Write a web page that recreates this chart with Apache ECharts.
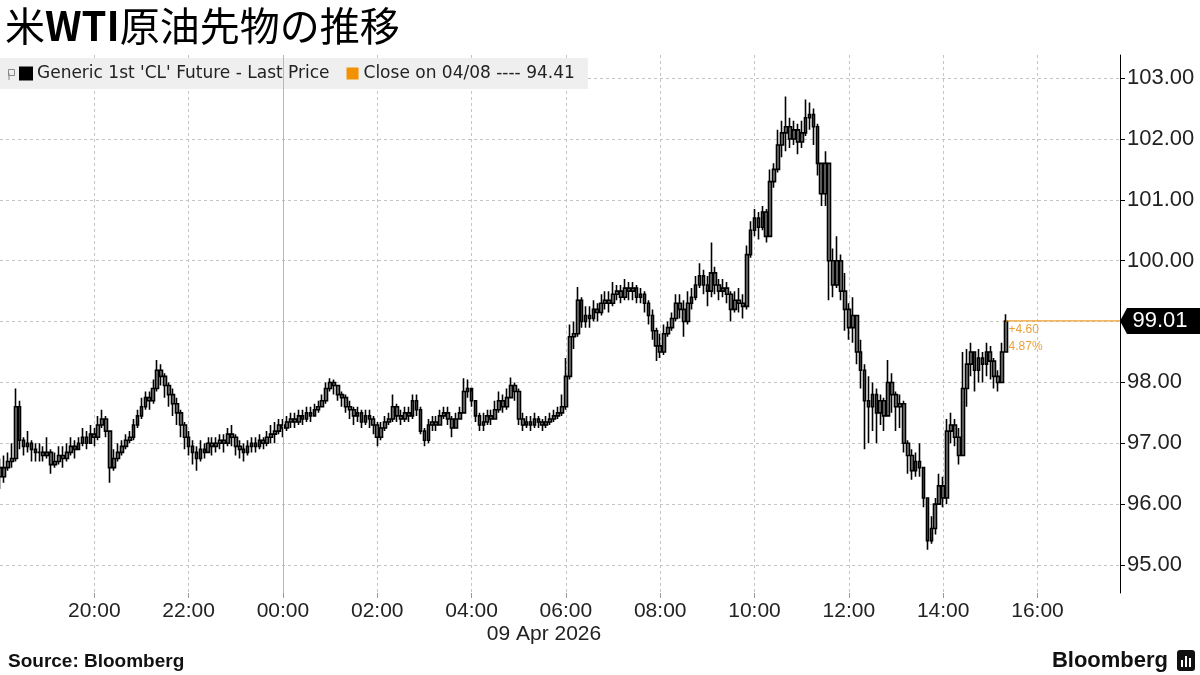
<!DOCTYPE html>
<html><head><meta charset="utf-8">
<script src="https://cdn.jsdelivr.net/npm/echarts@6/dist/echarts.min.js"></script>
<style>html,body{margin:0;padding:0;background:#fff}#c{width:1200px;height:675px}</style>
</head><body><div id="c"></div>
<script>
const chartTitle = '米{b|WTI}原油先物の推移';
const seriesName = "Generic 1st 'CL' Future - Last Price";
const prevCloseName = 'Close on 04/08 ---- 94.41';
const prevClose = 94.41;
const slotCount = 286;          // 5-minute slots from 18:00 (8 Apr) to 17:45 (9 Apr)
const tickLabels = ['20:00','22:00','00:00','02:00','04:00','06:00','08:00','10:00','12:00','14:00','16:00'];
const dayBoundary = '00:00';
const dateLabel = '09 Apr 2026';
const sourceText = 'Source: Bloomberg';

const opens = [
96.6,96.45,96.6,96.7,96.75,97.6,97.05,96.95,97.0,96.9,
96.85,96.85,96.8,96.85,96.65,96.7,96.8,96.75,96.85,96.95,
96.9,97.0,97.1,97.0,97.15,97.1,97.3,97.4,97.2,96.6,
96.75,96.85,96.95,97.05,97.1,97.3,97.45,97.6,97.75,97.7,
97.9,98.2,98.1,97.95,97.8,97.65,97.5,97.3,97.1,96.95,
96.85,96.75,96.9,96.85,97.0,96.95,97.0,97.05,97.0,97.15,
97.1,96.95,96.9,96.85,96.95,97.0,96.95,97.05,97.0,97.1,
97.15,97.2,97.3,97.25,97.35,97.4,97.35,97.45,97.4,97.5,
97.45,97.55,97.6,97.7,97.9,98.0,97.95,97.8,97.75,97.6,
97.55,97.45,97.5,97.35,97.45,97.4,97.3,97.1,97.25,97.35,
97.4,97.6,97.45,97.4,97.5,97.45,97.7,97.55,97.2,97.05,
97.3,97.35,97.3,97.45,97.5,97.4,97.25,97.4,97.5,97.85,
97.9,97.7,97.45,97.3,97.35,97.45,97.4,97.55,97.7,97.6,
97.75,97.95,97.85,97.4,97.3,97.35,97.3,97.4,97.35,97.3,
97.35,97.4,97.45,97.5,97.6,98.1,98.75,98.8,99.35,99.0,
99.1,99.05,99.2,99.15,99.3,99.35,99.3,99.45,99.5,99.4,
99.55,99.5,99.55,99.4,99.45,99.3,99.1,98.85,98.6,98.5,
98.8,98.9,99.05,99.3,99.2,99.0,99.3,99.4,99.6,99.75,
99.6,99.5,99.8,99.6,99.5,99.55,99.45,99.2,99.35,99.3,
99.25,100.1,100.5,100.7,100.55,100.8,100.4,101.3,101.5,101.9,
102.1,102.2,102.0,102.15,101.95,102.1,102.35,102.4,102.2,101.6,
101.1,101.6,100.0,99.6,100.0,99.5,99.2,98.9,99.1,98.5,
98.2,97.7,97.6,97.8,97.5,97.7,97.45,98.0,97.8,97.6,
97.65,97.0,96.8,96.55,96.7,96.6,96.1,95.4,95.6,96.0,
96.3,96.1,97.2,97.3,97.1,96.8,97.9,98.3,98.5,98.2,
98.4,98.3,98.5,98.35,98.1,98.0,98.5
];
const closes = [
96.45,96.6,96.7,96.75,97.6,97.05,96.95,97.0,96.9,96.85,
96.85,96.8,96.85,96.65,96.7,96.8,96.75,96.85,96.95,96.9,
97.0,97.1,97.0,97.15,97.1,97.3,97.4,97.2,96.6,96.75,
96.85,96.95,97.05,97.1,97.3,97.45,97.6,97.75,97.7,97.9,
98.2,98.1,97.95,97.8,97.65,97.5,97.3,97.1,96.95,96.85,
96.75,96.9,96.85,97.0,96.95,97.0,97.05,97.0,97.15,97.1,
96.95,96.9,96.85,96.95,97.0,96.95,97.05,97.0,97.1,97.15,
97.2,97.3,97.25,97.35,97.4,97.35,97.45,97.4,97.5,97.45,
97.55,97.6,97.7,97.9,98.0,97.95,97.8,97.75,97.6,97.55,
97.45,97.5,97.35,97.45,97.4,97.3,97.1,97.25,97.35,97.4,
97.6,97.45,97.4,97.5,97.45,97.7,97.55,97.2,97.05,97.3,
97.35,97.3,97.45,97.5,97.4,97.25,97.4,97.5,97.85,97.9,
97.7,97.45,97.3,97.35,97.45,97.4,97.55,97.7,97.6,97.75,
97.95,97.85,97.4,97.3,97.35,97.3,97.4,97.35,97.3,97.35,
97.4,97.45,97.5,97.6,98.1,98.75,98.8,99.35,99.0,99.1,
99.05,99.2,99.15,99.3,99.35,99.3,99.45,99.5,99.4,99.55,
99.5,99.55,99.4,99.45,99.3,99.1,98.85,98.6,98.5,98.8,
98.9,99.05,99.3,99.2,99.0,99.3,99.4,99.6,99.75,99.6,
99.5,99.8,99.6,99.5,99.55,99.45,99.2,99.35,99.3,99.25,
100.1,100.5,100.7,100.55,100.8,100.4,101.3,101.5,101.9,102.1,
102.2,102.0,102.15,101.95,102.1,102.35,102.4,102.2,101.6,101.1,
101.6,100.0,99.6,100.0,99.5,99.2,98.9,99.1,98.5,98.2,
97.7,97.6,97.8,97.5,97.7,97.45,98.0,97.8,97.6,97.65,
97.0,96.8,96.55,96.7,96.6,96.1,95.4,95.6,96.0,96.3,
96.1,97.2,97.3,97.1,96.8,97.9,98.3,98.5,98.2,98.4,
98.3,98.5,98.35,98.1,98.0,98.5,99.01
];
const highs = [
96.75,96.8,96.85,97.0,97.9,97.7,97.1,97.2,97.05,97.0,
97.0,96.95,97.1,96.9,96.85,96.95,96.95,97.0,97.1,97.05,
97.1,97.25,97.2,97.3,97.25,97.45,97.55,97.45,97.2,96.9,
97.0,97.05,97.15,97.2,97.4,97.55,97.75,97.85,97.85,98.05,
98.37,98.3,98.15,98.0,97.9,97.75,97.55,97.35,97.2,97.05,
96.95,97.05,97.0,97.1,97.1,97.1,97.15,97.15,97.25,97.3,
97.15,97.05,97.0,97.05,97.1,97.1,97.15,97.1,97.2,97.3,
97.35,97.4,97.4,97.45,97.5,97.5,97.55,97.55,97.6,97.6,
97.65,97.7,97.8,98.0,98.07,98.05,97.95,97.85,97.8,97.7,
97.6,97.6,97.55,97.55,97.55,97.45,97.35,97.35,97.45,97.5,
97.8,97.65,97.55,97.6,97.6,97.8,97.8,97.6,97.25,97.4,
97.45,97.45,97.55,97.6,97.6,97.45,97.5,97.6,98.07,98.05,
97.85,97.7,97.5,97.5,97.55,97.55,97.7,97.85,97.8,97.9,
98.08,98.0,97.9,97.5,97.45,97.45,97.5,97.45,97.4,97.45,
97.5,97.55,97.6,97.8,98.4,98.95,99.0,99.57,99.4,99.25,
99.25,99.35,99.3,99.45,99.5,99.5,99.65,99.6,99.6,99.7,
99.65,99.65,99.6,99.55,99.5,99.35,99.2,98.9,98.8,98.95,
99.0,99.15,99.45,99.45,99.35,99.5,99.55,99.75,99.96,99.85,
99.75,100.3,99.9,99.7,99.7,99.65,99.5,99.5,99.55,99.45,
100.25,100.65,100.85,100.8,100.9,100.85,101.5,101.6,102.15,102.3,
102.7,102.35,102.3,102.25,102.3,102.65,102.6,102.5,102.25,101.6,
101.8,101.6,100.2,100.4,100.1,99.8,99.3,99.4,99.1,98.7,
98.3,98.1,98.0,97.9,97.8,97.75,98.37,98.15,97.85,97.8,
97.7,97.05,96.9,96.85,97.0,96.6,96.1,95.8,96.1,96.5,
96.45,97.4,97.5,97.4,97.25,98.5,98.55,98.65,98.5,98.55,
98.5,98.65,98.6,98.4,98.2,98.65,99.12
];
const lows = [
96.25,96.35,96.55,96.6,96.7,96.9,96.8,96.85,96.7,96.7,
96.7,96.7,96.75,96.5,96.6,96.65,96.6,96.7,96.8,96.75,
96.9,96.95,96.9,97.0,96.95,97.05,97.25,97.1,96.35,96.55,
96.7,96.8,96.9,97.0,97.05,97.25,97.4,97.55,97.55,97.65,
97.85,97.95,97.75,97.6,97.45,97.3,97.1,96.9,96.8,96.65,
96.55,96.7,96.75,96.85,96.8,96.85,96.9,96.85,96.95,96.95,
96.8,96.75,96.7,96.8,96.85,96.85,96.9,96.9,96.95,97.0,
97.0,97.15,97.1,97.2,97.25,97.25,97.3,97.3,97.35,97.35,
97.45,97.5,97.6,97.65,97.85,97.8,97.7,97.6,97.5,97.4,
97.3,97.35,97.25,97.3,97.25,97.15,96.95,97.05,97.2,97.3,
97.35,97.35,97.3,97.35,97.35,97.4,97.45,97.15,96.95,97.0,
97.2,97.2,97.3,97.4,97.3,97.1,97.25,97.4,97.5,97.75,
97.6,97.35,97.2,97.2,97.3,97.3,97.4,97.5,97.5,97.55,
97.75,97.7,97.3,97.2,97.25,97.2,97.25,97.25,97.2,97.25,
97.3,97.35,97.4,97.45,97.55,98.05,98.55,98.75,98.9,98.9,
98.9,99.0,99.0,99.1,99.2,99.15,99.25,99.35,99.3,99.35,
99.35,99.35,99.3,99.3,99.15,98.95,98.7,98.35,98.4,98.45,
98.75,98.85,99.0,99.05,98.75,98.95,99.2,99.35,99.55,99.45,
99.25,99.4,99.45,99.35,99.4,99.3,99.0,99.15,99.15,99.05,
99.2,100.05,100.4,100.35,100.5,100.3,100.4,101.2,101.45,101.7,
101.8,101.85,101.9,101.75,101.85,102.05,102.15,101.9,101.4,100.9,
100.9,99.35,99.4,99.55,99.35,98.85,98.7,98.65,98.3,97.9,
96.9,97.0,97.2,97.0,97.3,97.2,97.45,97.5,97.2,97.25,
96.85,96.5,96.4,96.45,96.45,95.95,95.25,95.35,95.5,96.0,
95.95,96.0,97.0,96.95,96.65,96.8,97.6,98.1,97.85,98.0,
98.0,98.1,98.05,97.9,97.85,98.0,98.5
];

// category labels: 5-minute slots starting 18:00
const categories = [];
for (let i = 0; i < slotCount; i++) {
  const m = (18 * 60 + i * 5) % 1440;
  categories.push(String(Math.floor(m / 60)).padStart(2, '0') + ':' + String(m % 60).padStart(2, '0'));
}
const ohlc = closes.map((c, i) => [opens[i], c, lows[i], highs[i]]);
const lastIdx = closes.length - 1;
const last = closes[lastIdx];
const chg = last - prevClose;
const pct = chg / prevClose * 100;

const AX_FONT = "'Liberation Sans', Arial, sans-serif";
const LEG_FONT = "'DejaVu Sans', sans-serif";
const ORANGE = '#f0a030';
const isTick = (idx, val) => tickLabels.indexOf(categories[idx]) >= 0;

const chart = echarts.init(document.getElementById('c'));
chart.setOption({
  animation: false,
  backgroundColor: '#fff',
  title: {
    text: chartTitle, left: 0, top: 1,
    textStyle: {
      fontFamily: "'Noto Sans CJK JP', sans-serif", fontSize: 40, fontWeight: 'normal', color: '#000',
      rich: { b: { fontFamily: "'Noto Sans CJK JP', sans-serif", fontSize: 40, fontWeight: 'bold', color: '#000' } }
    }
  },
  legend: {
    left: 0, top: 58, padding: [7, 13, 7, 19], backgroundColor: '#efefef',
    itemGap: 17, itemWidth: 12, itemHeight: 12, icon: 'rect',
    data: [
      { name: seriesName, itemStyle: { color: '#000' } },
      { name: prevCloseName, itemStyle: { color: '#f39200' } }
    ],
    textStyle: { fontSize: 17, color: '#222', fontFamily: LEG_FONT },
    selectedMode: false
  },
  grid: { left: 0, right: 80, top: 55, bottom: 82 },
  xAxis: {
    type: 'category', data: categories, boundaryGap: false,
    axisLine: { show: false },
    axisTick: { show: true, interval: isTick, length: 5, lineStyle: { color: '#999' } },
    axisLabel: { interval: isTick, fontSize: 21, color: '#222', margin: 8, fontFamily: AX_FONT },
    splitLine: { show: true, interval: isTick, lineStyle: { color: '#c4c4c4', type: [3, 3] } }
  },
  yAxis: {
    type: 'value', position: 'right', min: 94.54, max: 103.38, splitNumber: 9, scale: true,
    axisLine: { show: true, lineStyle: { color: '#000' } },
    axisTick: { show: true, length: 5, lineStyle: { color: '#000' } },
    axisLabel: { showMinLabel: false, showMaxLabel: false, formatter: v => v.toFixed(2), fontSize: 22, color: '#222', margin: 7, fontFamily: AX_FONT },
    splitLine: { show: true, showMinLine: false, showMaxLine: false, lineStyle: { color: '#c4c4c4', type: [3, 3] } }
  },
  series: [
    {
      type: 'candlestick', name: seriesName, data: ohlc, barWidth: 3.2, z: 3,
      itemStyle: { color: '#808080', color0: '#808080', borderColor: '#000', borderColor0: '#000', borderWidth: 1.6 },
      markLine: {
        silent: true, symbol: 'none', label: { show: false },
        lineStyle: { color: '#b8b8b8', type: 'solid', width: 1 },
        data: [ { xAxis: dayBoundary } ]
      },
      markPoint: {
        silent: true,
        data: [
          { coord: [lastIdx, last], symbol: 'rect', symbolSize: 1, itemStyle: { color: 'rgba(0,0,0,0)' },
            label: { show: true, position: [3, 1], formatter: (chg >= 0 ? '+' : '') + chg.toFixed(2) + '\n' + pct.toFixed(2) + '%',
                     color: '#e9a23b', fontSize: 12, lineHeight: 17, align: 'left', verticalAlign: 'top', fontFamily: AX_FONT } },
          { coord: [slotCount - 1, last], symbol: 'path://M0,13 L7,0 L80,0 L80,26 L7,26 Z', symbolSize: [80, 26], symbolKeepAspect: false,
            symbolOffset: [40, 0], itemStyle: { color: '#000' },
            label: { show: true, position: 'inside', offset: [0, 0], formatter: last.toFixed(2), color: '#fff', fontSize: 22, fontFamily: AX_FONT } }
        ]
      }
    },
    { type: 'line', name: prevCloseName, data: [], itemStyle: { color: '#f39200' } },
    { type: 'line', name: 'lastPriceLine', data: [[lastIdx, last], [slotCount - 1, last]], silent: true, z: 4,
      showSymbol: false, symbol: 'none', clip: false, lineStyle: { color: ORANGE, width: 1.2 }, itemStyle: { color: ORANGE } }
  ],
  graphic: [
    { type: 'rect', left: 6, top: 67, shape: { width: 6, height: 6 }, style: { fill: 'none', stroke: '#888', lineWidth: 1 }, z: 100 },
    { type: 'line', shape: { x1: 9, y1: 73, x2: 9, y2: 80 }, style: { stroke: '#888', lineWidth: 1 }, z: 100 },
    { type: 'text', x: 544, y: 634, style: { text: dateLabel, font: "21px 'Liberation Sans', Arial", fill: '#222', textAlign: 'center', textVerticalAlign: 'middle' } },
    { type: 'text', x: 8, y: 662, style: { text: sourceText, font: "bold 19px 'Liberation Sans', Arial", fill: '#111', textVerticalAlign: 'middle' } },
    { type: 'text', x: 1168, y: 661, style: { text: 'Bloomberg', font: "bold 22px 'Liberation Sans', Arial", fill: '#111', textAlign: 'right', textVerticalAlign: 'middle' } },
    { type: 'rect', shape: { x: 1177, y: 650, width: 18, height: 21, r: 3 }, style: { fill: '#111' } },
    { type: 'rect', shape: { x: 1181, y: 660, width: 2, height: 7 }, style: { fill: '#fff' } },
    { type: 'rect', shape: { x: 1185, y: 656, width: 2, height: 11 }, style: { fill: '#fff' } },
    { type: 'rect', shape: { x: 1189, y: 658, width: 2, height: 9 }, style: { fill: '#fff' } }
  ]
});
</script></body></html>
